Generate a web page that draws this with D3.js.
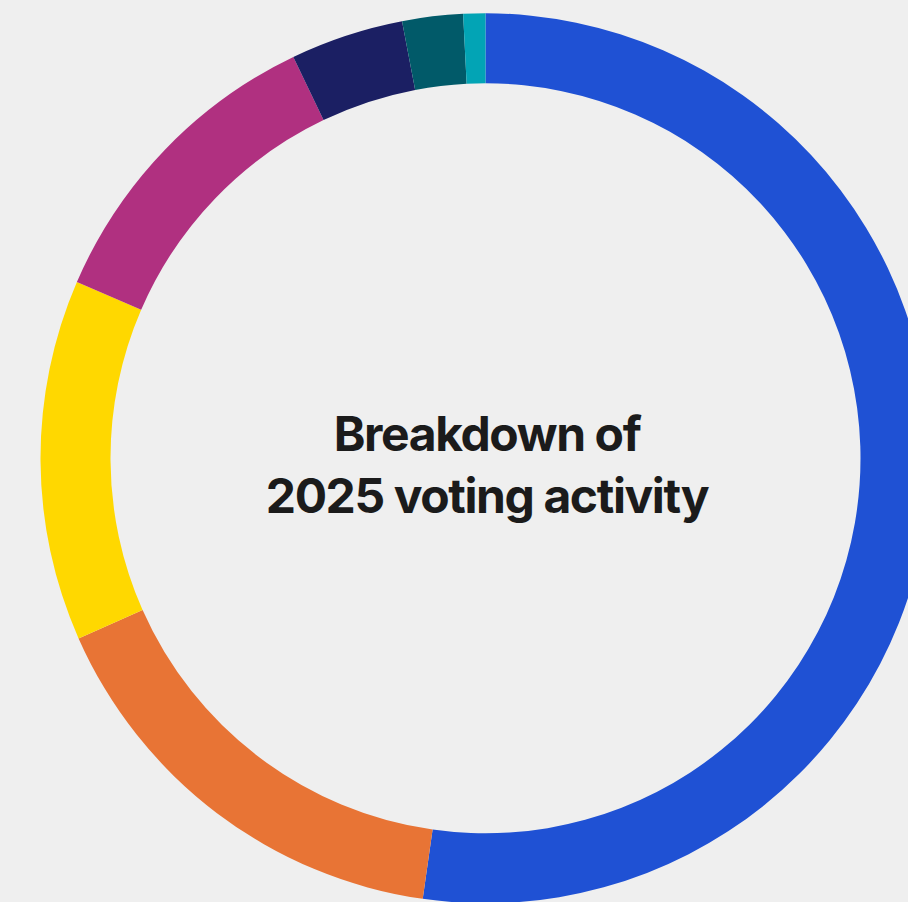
<!DOCTYPE html>
<html>
<head>
<meta charset="utf-8">
<script src="https://cdn.jsdelivr.net/npm/d3@7"></script>
<style>
  html, body { margin: 0; padding: 0; background: #efefef; }
  svg { display: block; }
  .title { font-family: Inter, "Noto Sans", sans-serif; font-weight: 700; fill: #1b1b1b; }
</style>
</head>
<body>
<div id="chart"></div>
<script>
// share of activity, clockwise from 12 o'clock
const segments = ["Segment 1", "Segment 2", "Segment 3", "Segment 4", "Segment 5", "Segment 6", "Segment 7"];
const shares = [52.2, 16.1, 13.1, 11.4, 4.1, 2.2, 0.8];
const colors = ["#1f51d4", "#e87435", "#ffd800", "#b03080", "#1b1f63", "#015a69", "#02a4b5"];
const titleLines = ["Breakdown of", "2025 voting activity"];

const width = 908;
const height = 902;
const cx = 485.5;
const cy = 458.3;
const outerR = 445;
const innerR = 375;

const svg = d3.select("#chart")
  .append("svg")
  .attr("width", width)
  .attr("height", height);

const g = svg.append("g")
  .attr("transform", `translate(${cx},${cy})`);

const data = segments.map((name, i) => ({ name, value: shares[i] }));

const color = d3.scaleOrdinal()
  .domain(segments)
  .range(colors);

const pie = d3.pie()
  .sort(null)
  .value(d => d.value);

const arc = d3.arc()
  .innerRadius(innerR)
  .outerRadius(outerR);

g.selectAll(".slice")
  .data(pie(data))
  .join("path")
  .attr("class", "slice")
  .attr("d", arc)
  .attr("fill", d => color(d.data.name));

const title = g.append("text")
  .attr("class", "title")
  .attr("text-anchor", "middle")
  .attr("font-size", 48)
  .attr("letter-spacing", "-1.4px");

title.selectAll("tspan")
  .data(titleLines)
  .join("tspan")
  .attr("x", 1.5)
  .attr("y", (d, i) => -7.8 + i * 62.6)
  .text(d => d);
</script>
</body>
</html>
